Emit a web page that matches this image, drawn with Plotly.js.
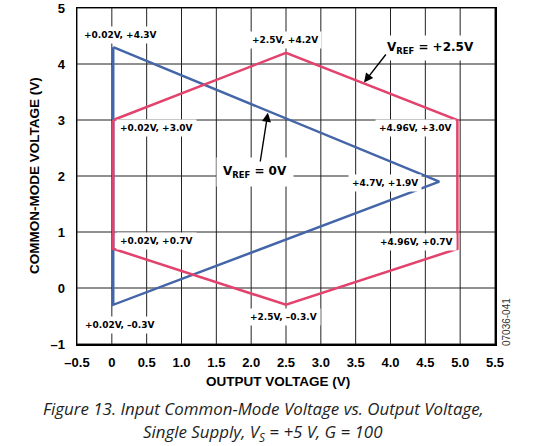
<!DOCTYPE html>
<html>
<head>
<meta charset="utf-8">
<script src="https://cdn.plot.ly/plotly-3.0.1.min.js"></script>
<style>html,body{margin:0;padding:0;background:#fff;}#chart{width:536px;height:446px;}</style>
</head>
<body>
<div id="chart"></div>
<script>
// Data
const blueX = [0.02, 4.7, 0.02, 0.02];      // VREF = 0V
const blueY = [4.3, 1.9, -0.3, 4.3];
const redX = [0.02, 2.5, 4.96, 4.96, 2.5, 0.02, 0.02]; // VREF = +2.5V
const redY = [3.0, 4.2, 3.0, 0.7, -0.3, 0.7, 3.0];
const xTickVals = [-0.5, 0, 0.5, 1.0, 1.5, 2.0, 2.5, 3.0, 3.5, 4.0, 4.5, 5.0, 5.5];
const xTickText = ['\u20130.5', '0', '0.5', '1.0', '1.5', '2.0', '2.5', '3.0', '3.5', '4.0', '4.5', '5.0', '5.5'];
const yTickVals = [-1, 0, 1, 2, 3, 4, 5];
const yTickText = ['\u20131', '0', '1', '2', '3', '4', '5'];
const pointLabels = ['+0.02V, +4.3V', '+2.5V, +4.2V', '+0.02V, +3.0V', '+4.96V, +3.0V', '+4.7V, +1.9V',
  '+0.02V, +0.7V', '+4.96V, +0.7V', '+0.02V, \u20130.3V', '+2.5V, \u20130.3.V'];

// Label placement (layout)
const labelPos = [[0.131, 4.52], [2.485, 4.43], [0.634, 2.857], [4.358, 2.857], [3.92, 1.875],
  [0.634, 0.839], [4.366, 0.821], [0.117, -0.66], [2.47, -0.518]];

const labelFont = {family: 'DejaVu Sans', size: 9, color: '#000', weight: 'bold'};
const annotations = pointLabels.map((t, i) => ({
  x: labelPos[i][0], y: labelPos[i][1], xref: 'x', yref: 'y', text: t, showarrow: false,
  font: labelFont, bgcolor: '#fff', borderpad: 3, xanchor: 'center', yanchor: 'middle'
}));

const bigFont = {family: 'DejaVu Sans', size: 12, color: '#000', weight: 'bold'};
annotations.push({x: 4.574, y: 4.286, xref: 'x', yref: 'y', text: 'V<sub>REF</sub> = +2.5V', showarrow: false,
  font: bigFont, bgcolor: '#fff', borderpad: 4});
annotations.push({x: 2.055, y: 2.07, xref: 'x', yref: 'y', text: 'V<sub>REF</sub> = 0V', showarrow: false,
  font: bigFont, bgcolor: '#fff', borderpad: 6});
// arrows
annotations.push({x: 3.62, y: 3.67, xref: 'x', yref: 'y', ax: 3.95, ay: 4.196, axref: 'x', ayref: 'y',
  text: '', showarrow: true, arrowhead: 2, arrowsize: 1.3, arrowwidth: 1.4, arrowcolor: '#000', standoff: 0});
annotations.push({x: 2.24, y: 3.13, xref: 'x', yref: 'y', ax: 2.127, ay: 2.232, axref: 'x', ayref: 'y',
  text: '', showarrow: true, arrowhead: 2, arrowsize: 1.3, arrowwidth: 1.4, arrowcolor: '#000', standoff: 0});

const titleFont = {family: 'Liberation Sans, Arial, sans-serif', size: 13.5, color: '#000', weight: 'bold'};
annotations.push({x: 0.482, y: -0.113, xref: 'paper', yref: 'paper', text: 'OUTPUT VOLTAGE (V)', showarrow: false,
  font: titleFont, xanchor: 'center', yanchor: 'middle'});
annotations.push({x: -0.1005, y: 0.503, xref: 'paper', yref: 'paper', text: 'COMMON-MODE VOLTAGE (V)', showarrow: false,
  font: titleFont, xanchor: 'center', yanchor: 'middle', textangle: -90});
const capFont = {family: 'Open Sans, sans-serif', size: 16.9, color: '#1e1e1e', style: 'italic'};
annotations.push({x: 0.445, y: -0.191, xref: 'paper', yref: 'paper',
  text: 'Figure 13. Input Common-Mode Voltage vs. Output Voltage,', showarrow: false,
  font: capFont, xanchor: 'center', yanchor: 'middle'});
annotations.push({x: 0.445, y: -0.263, xref: 'paper', yref: 'paper',
  text: 'Single Supply, V<sub>S</sub> = +5 V, G = 100', showarrow: false,
  font: capFont, xanchor: 'center', yanchor: 'middle'});
annotations.push({x: 1.026, y: 0.065, xref: 'paper', yref: 'paper', text: '07036-041', showarrow: false,
  font: {family: 'Liberation Sans, Arial, sans-serif', size: 10, color: '#333'}, textangle: -90,
  xanchor: 'center', yanchor: 'middle'});

// grid lines built from the tick arrays
const shapes = [];
xTickVals.forEach(v => shapes.push({type: 'line', xref: 'x', yref: 'paper', x0: v, x1: v, y0: 0, y1: 1,
  line: {color: '#222', width: 1}, layer: 'below'}));
yTickVals.forEach(v => shapes.push({type: 'line', xref: 'paper', yref: 'y', x0: 0, x1: 1, y0: v, y1: v,
  line: {color: '#222', width: 1}, layer: 'below'}));

const traces = [
  {x: blueX, y: blueY, type: 'scatter', mode: 'lines', line: {color: '#4466a8', width: 2.5}, hoverinfo: 'skip', name: 'VREF = 0V'},
  {x: redX, y: redY, type: 'scatter', mode: 'lines', line: {color: '#e2426c', width: 2.5}, hoverinfo: 'skip', name: 'VREF = +2.5V'}
];

const tickFont = {family: 'Liberation Sans, Arial, sans-serif', size: 13, color: '#000', weight: 'bold'};
const layout = {
  width: 536, height: 446,
  margin: {l: 77, r: 41, t: 8, b: 102},
  paper_bgcolor: '#fff', plot_bgcolor: '#fff',
  showlegend: false,
  xaxis: {range: [-0.5, 5.5], tickmode: 'array', tickvals: xTickVals, ticktext: xTickText, tickfont: tickFont,
    showgrid: false, zeroline: false,
    showline: true, linecolor: '#000', linewidth: 1.5, mirror: true, ticks: '', ticklabelstandoff: 6, fixedrange: true},
  yaxis: {range: [-1, 5], tickmode: 'array', tickvals: yTickVals, ticktext: yTickText, tickfont: tickFont,
    showgrid: false, zeroline: false,
    showline: true, linecolor: '#000', linewidth: 1.5, mirror: true, ticks: '', ticklabelstandoff: 8, fixedrange: true},
  shapes: shapes,
  annotations: annotations
};

Plotly.newPlot('chart', traces, layout, {displayModeBar: false, staticPlot: true});
</script>
</body>
</html>
